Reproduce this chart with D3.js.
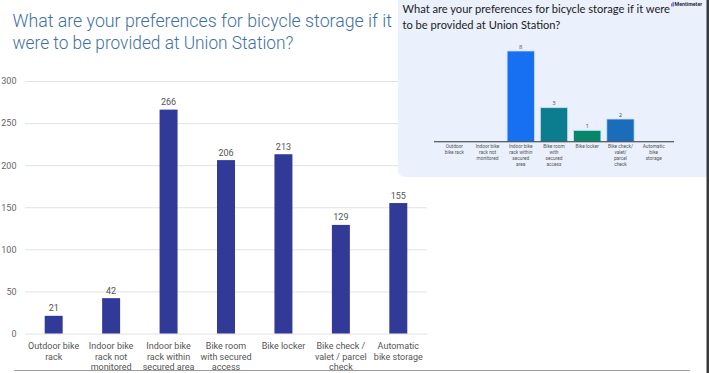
<!DOCTYPE html>
<html>
<head>
<meta charset="utf-8">
<script src="https://cdn.jsdelivr.net/npm/d3@7"></script>
<style>
  html, body { margin: 0; padding: 0; background: #fff; }
  svg { display: block; }
</style>
</head>
<body>
<svg id="chart" width="709" height="373"></svg>
<script>
// ---- Main chart data ----
const categories = [
  "Outdoor bike\nrack",
  "Indoor bike\nrack not\nmonitored",
  "Indoor bike\nrack within\nsecured area",
  "Bike room\nwith secured\naccess",
  "Bike locker",
  "Bike check /\nvalet / parcel\ncheck",
  "Automatic\nbike storage"
];
const values = [21, 42, 266, 206, 213, 129, 155];
const yTicks = [0, 50, 100, 150, 200, 250, 300];
const titleLines = [
  "What are your preferences for bicycle storage if it",
  "were to be provided at Union Station?"
];

// ---- Inset (Mentimeter screenshot) data ----
const insetCategories = [
  "Outdoor\nbike rack",
  "Indoor bike\nrack not\nmonitored",
  "Indoor bike\nrack within\nsecured\narea",
  "Bike room\nwith\nsecured\naccess",
  "Bike locker",
  "Bike check/\nvalet/\nparcel\ncheck",
  "Automatic\nbike\nstorage"
];
const insetValues = [0, 0, 8, 3, 1, 2, 0];
const insetColors = ["#1a6ff0", "#1a6ff0", "#176ff2", "#0b7d8e", "#07876a", "#1a6dba", "#1a6ff0"];
const insetTitleLines = [
  "What are your preferences for bicycle storage if it were",
  "to be provided at Union Station?"
];

const svg = d3.select("#chart");

// ---------------- Main chart ----------------
const titleWidths = [380, 281];
const titleG = svg.append("g");
titleLines.forEach((line, i) => {
  const ty = 27 + i * 22;
  const t = titleG.append("text")
    .attr("x", 0)
    .attr("y", 0)
    .style("font-family", "Roboto, sans-serif")
    .style("font-weight", 300)
    .style("font-size", "19px")
    .style("fill", "#3e70a1")
    .text(line);
  const sx = titleWidths[i] / t.node().getComputedTextLength();
  t.attr("transform", `translate(12.5,${ty}) scale(${Math.min(1, sx)},1)`);
});

const x = d3.scaleBand().domain(categories).range([25, 427]).paddingInner(0.687).paddingOuter(0.343);
const y = d3.scaleLinear().domain([0, 300]).range([333.5, 81]);

const yAxis = d3.axisLeft(y).tickValues(yTicks).tickSize(-(427 - 25)).tickPadding(8.5);
const gy = svg.append("g").attr("transform", "translate(25,0)").call(yAxis);
gy.select(".domain").remove();
gy.selectAll(".tick line").attr("stroke", "#e2e2e2").attr("stroke-width", 1);
gy.selectAll(".tick text")
  .style("font-family", "Roboto, sans-serif")
  .style("font-size", "9px")
  .style("fill", "#666");

svg.append("g").selectAll("rect").data(values).join("rect")
  .attr("x", (d, i) => x(categories[i]))
  .attr("width", x.bandwidth())
  .attr("y", d => y(d))
  .attr("height", d => y(0) - y(d))
  .attr("fill", "#323a97");

svg.append("g").selectAll("text").data(values).join("text")
  .attr("x", (d, i) => x(categories[i]) + x.bandwidth() / 2)
  .attr("y", d => y(d) - 4.5)
  .attr("text-anchor", "middle")
  .style("font-family", "Roboto, sans-serif")
  .style("font-size", "9px")
  .style("fill", "#555")
  .text(d => d);

// bottom rule
svg.append("line")
  .attr("x1", 14).attr("x2", 690).attr("y1", 370.5).attr("y2", 370.5)
  .attr("stroke", "#9a9a9a").attr("stroke-width", 1);

const catG = svg.append("g");
categories.forEach(c => {
  const t = catG.append("text")
    .attr("text-anchor", "middle")
    .style("font-family", "Roboto, sans-serif")
    .style("font-size", "9px")
    .style("fill", "#555");
  c.split("\n").forEach((line, j) => {
    t.append("tspan")
      .attr("x", x(c) + x.bandwidth() / 2)
      .attr("y", 349 + j * 10.5)
      .text(line);
  });
});

// ---------------- Inset ----------------
const inset = svg.append("g");
inset.append("path")
  .attr("d", "M398,0 H707 V177 H406 Q398,177 398,169 Z")
  .attr("fill", "#eaf0fc");

const insetTitle = inset.append("g").selectAll("text").data(insetTitleLines).join("text")
  .attr("x", 402.5)
  .attr("y", (d, i) => 13.2 + i * 15.6)
  .style("font-family", "Lato, sans-serif")
  .style("font-size", "12px")
  .style("fill", "#1b1b1b")
  .text(d => d);
// fit the first line to its width in the screenshot (~268px)
const natural = insetTitle.nodes()[0].getComputedTextLength();
const fitSize = Math.min(12.2, 12 * 268 / natural);
insetTitle.style("font-size", fitSize + "px");

// Mentimeter logo
inset.append("rect").attr("x", 671).attr("y", 3.5).attr("width", 1.3).attr("height", 3).attr("fill", "#e8525a");
inset.append("rect").attr("x", 672.5).attr("y", 2).attr("width", 1.3).attr("height", 4.5).attr("fill", "#3f6fe8");
inset.append("text")
  .attr("x", 674.5).attr("y", 6.3)
  .style("font-family", "Roboto, sans-serif")
  .style("font-weight", 700)
  .style("font-size", "5.3px")
  .style("fill", "#2b2b3a")
  .text("Mentimeter");

const xi = d3.scaleBand().domain(insetCategories).range([434, 674]).paddingInner(0.178).paddingOuter(0.2);
const yi = d3.scaleLinear().domain([0, 8]).range([141.7, 51]);

const barData = insetValues.map((v, i) => ({ v, c: insetCategories[i], col: insetColors[i] })).filter(d => d.v > 0);
inset.append("g").selectAll("rect").data(barData).join("rect")
  .attr("x", d => xi(d.c))
  .attr("width", xi.bandwidth())
  .attr("y", d => yi(d.v))
  .attr("height", d => yi(0) - yi(d.v))
  .attr("fill", d => d.col)
  .attr("stroke", "#c9dcfb")
  .attr("stroke-width", 0.8);

inset.append("g").selectAll("text").data(barData).join("text")
  .attr("x", d => xi(d.c) + xi.bandwidth() / 2)
  .attr("y", d => yi(d.v) - 2.5)
  .attr("text-anchor", "middle")
  .style("font-family", "'Open Sans', sans-serif")
  .style("font-size", "6px")
  .style("fill", "#555")
  .text(d => d.v);

inset.append("line")
  .attr("x1", 434).attr("x2", 674).attr("y1", 141.7).attr("y2", 141.7)
  .attr("stroke", "#333").attr("stroke-width", 1.1);

insetCategories.forEach(c => {
  const t = inset.append("text")
    .attr("text-anchor", "middle")
    .style("font-family", "Roboto, sans-serif")
    .style("font-size", "4.8px")
    .style("fill", "#555");
  c.split("\n").forEach((line, j) => {
    t.append("tspan")
      .attr("x", xi(c) + xi.bandwidth() / 2)
      .attr("y", 147.5 + j * 6.2)
      .text(line);
  });
});

// right dark edge
svg.append("rect").attr("x", 706.5).attr("y", 0).attr("width", 2.5).attr("height", 373).attr("fill", "#3a3a3a");
</script>
</body>
</html>
